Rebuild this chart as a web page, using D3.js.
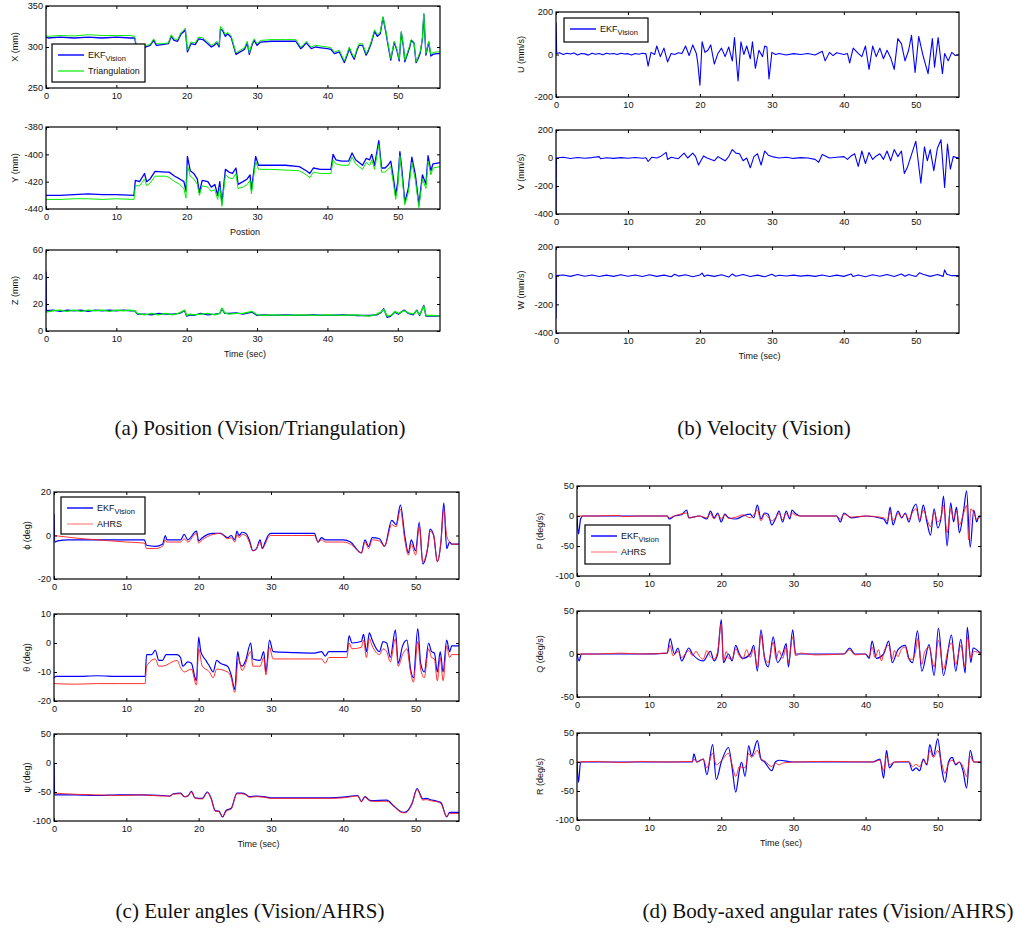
<!DOCTYPE html>
<html>
<head>
<meta charset="utf-8">
<script src="https://cdn.jsdelivr.net/npm/d3@7"></script>
<style>
  body { margin: 0; background: #fff; }
  svg text { font-family: "Liberation Sans", Arial, sans-serif; fill: #111; }
  .caption { font-family: "Liberation Serif", "Times New Roman", serif; }
</style>
</head>
<body>
<div id="chart"></div>
<script>
// time values in seconds, paired with the reading at that time

// (a) position
var xEkf = [[0,312],[0.3,311],[2,312],[4,311],[6,312],[8,311],[10,312],[12,311],[12.6,311],[12.9,297],[13.5,296],[14.2,300],[14.8,302],[15.3,308],[15.7,302],[16.5,303],[17.4,304],[17.8,313],[18.2,308],[18.7,307],[19.2,316],[19.5,318],[19.8,321],[20.1,294],[20.6,304],[21.2,303],[21.7,310],[22.3,309],[23,304],[23.5,300],[23.9,302],[24.3,305],[24.6,300],[24.8,322],[25.1,320],[25.5,313],[25.8,316],[26.3,312],[27,291],[27.6,294],[28.2,297],[28.6,305],[28.9,291],[29.3,303],[29.6,308],[30,302],[30.5,306],[32,307],[34,307],[35.5,307],[36.2,298],[36.6,301],[37,305],[37.4,301],[37.7,298],[38.3,300],[39.1,299],[40,298],[40.5,297],[41,292],[41.7,294],[42.4,281],[42.8,290],[43.1,298],[43.5,290],[43.8,285],[44.2,296],[44.5,302],[45,302],[45.5,290],[45.8,295],[46.2,304],[46.7,319],[47.1,313],[47.5,316],[47.9,336],[48.3,318],[48.7,298],[49,284],[49.5,306],[49.9,295],[50.2,283],[50.5,318],[50.8,300],[51,282],[51.4,292],[51.7,300],[51.9,308],[52.3,305],[52.6,281],[52.9,286],[53.2,293],[53.5,310],[53.7,340],[54,290],[54.4,306],[54.7,289],[55,291],[55.5,292],[56,292]];
var xTri = [[0,314],[0.3,313],[2,314],[4,313.5],[6,315],[8,314],[10,314],[12,314],[12.6,313],[12.9,299],[13.5,298],[14.2,302],[14.8,303],[15.3,310],[15.7,304],[16.5,304],[17.4,305],[17.8,315],[18.2,310],[18.7,309],[19.2,318],[19.5,320],[19.8,323],[20.1,296],[20.6,306],[21.2,305],[21.7,312],[22.3,311],[23,306],[23.5,302],[23.9,304],[24.3,307],[24.6,302],[24.8,325],[25.1,322],[25.5,315],[25.8,318],[26.3,314],[27,293],[27.6,296],[28.2,299],[28.6,307],[28.9,293],[29.3,305],[29.6,310],[30,304],[30.5,308],[32,309],[34,309],[35.5,309],[36.2,300],[36.6,303],[37,307],[37.4,303],[37.7,300],[38.3,302],[39.1,301],[40,300],[40.5,299],[41,294],[41.7,296],[42.4,283],[42.8,292],[43.1,300],[43.5,292],[43.8,287],[44.2,298],[44.5,304],[45,304],[45.5,292],[45.8,297],[46.2,306],[46.7,321],[47.1,315],[47.5,318],[47.9,337],[48.3,320],[48.7,300],[49,286],[49.5,307],[49.9,297],[50.2,285],[50.5,319],[50.8,302],[51,284],[51.4,294],[51.7,302],[51.9,309],[52.3,306],[52.6,282],[52.9,288],[53.2,295],[53.5,311],[53.7,341],[54,292],[54.4,307],[54.7,291],[55,293],[55.5,294],[56,294]];
var yEkf = [[0,-430],[2,-430],[4,-429.5],[6,-429],[8,-429.5],[10,-429.5],[12.5,-430],[12.7,-419],[13.3,-420],[14,-414],[14.3,-420],[14.8,-418],[15.5,-412.5],[17,-413],[17.5,-413],[18.3,-416],[19,-418],[19.6,-420],[19.9,-427],[20.1,-401.5],[20.5,-412],[21,-414],[21.5,-418],[21.8,-428],[22.2,-419],[23,-420],[23.5,-424],[24,-422],[24.4,-430],[24.7,-420],[25,-436],[25.5,-411],[26,-413],[26.5,-414],[27,-410],[27.3,-422],[28,-420],[28.6,-418],[29,-415],[29.2,-426],[29.8,-401.5],[30.2,-408],[32,-408],[34,-408],[36,-409],[37,-412],[37.5,-414],[38,-410],[39,-411],[40.5,-411],[40.8,-400],[41.2,-404],[42,-405],[43,-405],[43.5,-399],[44,-404],[45,-408],[45.5,-403],[46,-404],[46.3,-400],[46.7,-408],[47.3,-390],[47.7,-410],[48.2,-410],[48.6,-408],[49,-405],[49.4,-418],[49.7,-430],[50,-420],[50.3,-398],[50.6,-412],[51,-435],[51.5,-425],[52,-402],[52.5,-415],[53,-437],[53.5,-415],[54,-422],[54.3,-401],[54.7,-412],[55,-407],[56,-406]];
var yTri = [[0,-433],[2,-433],[4,-432.5],[6,-432.5],[8,-433],[10,-432.5],[12.5,-433],[12.7,-423],[13.3,-423],[14,-418],[14.3,-423],[14.8,-421],[15.5,-416],[17,-416],[17.5,-417],[18.3,-420],[19,-422],[19.6,-425],[19.9,-432],[20.1,-408],[20.5,-416],[21,-418],[21.5,-422],[21.8,-430],[22.2,-423],[23,-424],[23.5,-427],[24,-426],[24.4,-433],[24.7,-424],[25,-438],[25.5,-415],[26,-417],[26.5,-418],[27,-414],[27.3,-425],[28,-424],[28.6,-422],[29,-419],[29.2,-429],[29.8,-405],[30.2,-411],[32,-411],[34,-411.5],[36,-412],[37,-415],[37.5,-417],[38,-413],[39,-414],[40.5,-414],[40.8,-404],[41.2,-407],[42,-408],[43,-408],[43.5,-402],[44,-407],[45,-411],[45.5,-406],[46,-408],[46.3,-404],[46.7,-411],[47.3,-393],[47.7,-413],[48.2,-413],[48.6,-411],[49,-409],[49.4,-422],[49.7,-433],[50,-424],[50.3,-401],[50.6,-416],[51,-437],[51.5,-428],[52,-406],[52.5,-419],[53,-439],[53.5,-418],[54,-425],[54.3,-405],[54.7,-415],[55,-410],[56,-409]];
var zEkf = [[0,44],[0.05,15],[1,15.5],[2,14.5],[3,15.5],[4,15],[5,15.5],[6,14.5],[7,15.5],[8,15],[9,15.5],[10,15],[11,15.5],[12,15],[12.6,15],[13,12.5],[14,12.5],[15,12],[16,13],[17,12.5],[18,12.5],[19,13],[19.7,15],[20,11],[20.5,12],[21,11.5],[22,13],[23,12],[24,12.5],[24.7,13],[25,16.5],[25.4,13],[26,13],[27,13.5],[28,12.5],[29.3,14],[30,11.5],[31,12],[32,11.5],[34,12],[36,11.5],[38,12],[40,11.5],[42,12],[44,11.5],[46,11.5],[47,12],[47.6,13.5],[48,16.5],[48.5,10],[49,11],[49.6,14],[50.1,12.5],[50.9,15.5],[51.5,13],[52.2,12],[52.7,15.5],[53.1,11.5],[53.7,19],[54,11],[55,11],[56,11]];
var zTri = [[0,14],[1,15],[2,15.5],[3,14.5],[4,15.5],[5,14.5],[6,15.5],[7,15],[8,15.5],[9,14.5],[10,15.5],[11,15],[12,15.5],[12.6,15],[13,13],[14,12],[15,13],[16,12],[17,13],[18,12],[19,13.5],[19.7,15.5],[20,11.5],[20.5,12.5],[21,12],[22,12.5],[23,13],[24,12],[24.7,13],[25,17],[25.4,13.5],[26,12.5],[27,13],[28,13],[29.3,14.5],[30,12],[31,11.5],[32,12],[34,11.5],[36,12],[38,11.5],[40,12],[42,11.5],[44,12],[46,11],[47,12.5],[47.6,14],[48,16],[48.5,11],[49,11.5],[49.6,14.5],[50.1,13],[50.9,15],[51.5,13.5],[52.2,12.5],[52.7,15],[53.1,12],[53.7,18.5],[54,11.5],[55,11.5],[56,11]];

// (b) velocity
var uEkf = [[0,150],[0.1,5],[0.5,8],[1,0],[1.5,6],[2,2],[2.5,7],[3,-2],[3.5,5],[4,3],[4.5,-3],[5,6],[5.5,1],[6,5],[6.5,-1],[7,6],[7.5,2],[8,5],[8.5,0],[9,6],[9.5,2],[10,4],[10.5,-2],[11,5],[11.5,1],[12,6],[12.5,3],[12.8,-55],[13.2,10],[13.7,0],[14,40],[14.5,-10],[15,30],[15.5,-35],[16,5],[16.5,0],[17,8],[17.5,5],[18,40],[18.5,-5],[19,45],[19.5,5],[19.7,-40],[20,-145],[20.3,60],[20.7,10],[21.1,20],[21.5,45],[22,-45],[22.5,5],[23,30],[23.5,-10],[24,35],[24.5,-30],[24.8,80],[25.3,-125],[25.7,60],[26.1,0],[26.5,40],[27,-20],[27.3,60],[27.7,-65],[28.2,20],[28.7,-10],[29,40],[29.3,35],[29.6,-115],[30,10],[30.5,0],[31,5],[32,-2],[33,4],[34,0],[35,5],[36,-2],[37,15],[37.4,-30],[38,10],[38.5,-5],[39,8],[40,0],[40.5,5],[40.8,-40],[41.3,30],[42,5],[42.5,-10],[43,40],[43.5,-70],[44,40],[44.5,-10],[45,30],[45.5,-20],[46,20],[46.5,-15],[47,-70],[47.5,75],[48,50],[48.5,-30],[49,20],[49.4,90],[49.9,-85],[50.4,85],[51,-5],[51.7,-90],[52.3,75],[52.6,-60],[53.1,80],[53.7,-90],[54,5],[54.5,-30],[55,10],[55.5,-5],[56,0]];
var vEkf = [[0,-380],[0.05,0],[1,5],[2,-3],[3,4],[4,-2],[5,3],[6,10],[6.2,-5],[7,2],[8,-3],[9,3],[10,-2],[11,4],[12,-2],[12.5,2],[12.8,-25],[13.3,5],[14,0],[14.5,10],[15.3,40],[15.5,-10],[16,5],[17,-5],[17.8,35],[18.3,0],[19,35],[19.4,10],[19.8,-50],[20.5,15],[21,0],[22,-20],[22.5,10],[23,-5],[23.5,-20],[24,10],[24.5,60],[25,35],[25.5,30],[26,-20],[26.5,0],[27,-70],[27.5,10],[28,30],[28.5,-50],[29,50],[29.5,20],[30,10],[31,0],[32,5],[33,-3],[34,3],[35,0],[36,-10],[36.5,-30],[37,25],[38,0],[39,5],[40,10],[40.5,-10],[41,15],[41.5,30],[42,-60],[42.5,50],[43,-40],[43.5,40],[44,-10],[44.5,15],[45,30],[45.5,-10],[46,50],[46.5,-20],[47,60],[47.5,10],[48,50],[48.4,-110],[48.8,-70],[49.5,40],[50,120],[50.7,-180],[51.2,80],[51.6,-20],[52,60],[52.5,-90],[53,70],[53.5,130],[54,-210],[54.4,100],[54.8,-80],[55.2,10],[56,0]];
var wEkf = [[0,-300],[0.05,0],[1,5],[2,-5],[3,8],[4,-4],[5,5],[6,-6],[7,4],[8,-5],[9,7],[10,-4],[11,5],[12,-6],[13,6],[14,-5],[15,4],[16,-8],[16.5,10],[17,-3],[18,6],[19,-8],[20,5],[20.3,18],[20.6,-6],[21,4],[22,-5],[23,6],[24,-10],[24.5,12],[25,-4],[26,8],[27,-6],[28,4],[29,-8],[30,10],[30.5,-4],[31,3],[32,-2],[33,4],[34,-3],[35,2],[36,-5],[37,5],[38,-6],[39,4],[40,-5],[41,12],[41.3,-6],[42,5],[43,-7],[44,6],[45,-4],[46,8],[47,-6],[48,12],[48.5,-4],[49,8],[50,-6],[50.5,20],[51,10],[52,-5],[53,8],[53.8,-5],[54,40],[54.3,10],[55,0],[56,0]];

// (c) euler angles
var phiEkf = [[0,10],[0.1,-3],[0.5,-2.5],[2,-2],[4,-2],[6,-2],[8,-2],[10,-2],[12.5,-2],[12.8,-4.5],[14,-5],[15,-4],[15.4,0],[15.6,-2],[17.5,-2],[18,0.5],[18.5,-2],[19.7,2],[20,-2.5],[20.5,-1],[22,1],[23,1],[24,-1],[24.5,0],[25,-2],[25.3,2],[25.6,0],[26,1.5],[26.5,1],[27,-2],[27.5,-7],[28,-6],[28.5,-2],[28.8,-6],[29.2,-3],[29.6,0],[30,1],[33,1],[36,1],[36.5,-3],[37,-1],[37.5,-2],[38,-2],[40,-2],[41,-3],[42.5,-8],[43,-2],[43.5,-5],[44,-1],[45,-1.5],[45.7,-5],[46.7,7],[47.3,5],[47.9,14],[48.5,0],[49,-8],[49.4,-2],[50,-7],[50.5,6],[51,-13],[51.7,-5],[52,3],[52.5,0],[53,-12],[53.5,-3],[53.9,15],[54.3,-6],[54.7,-3],[55,-4],[56,-4]];
var phiAhrs = [[0,0],[2,-0.8],[4,-1.5],[6,-2],[8,-2.5],[10,-3],[12.5,-3.5],[12.8,-6],[14,-6],[15,-5],[15.4,-2],[15.6,-3],[17.5,-3],[18,-1.5],[18.5,-3],[19.7,1],[20,-3.5],[20.5,-2],[22,0.5],[23,1],[24,-1.5],[24.5,-1],[25,-3],[25.3,0.5],[25.6,-1],[26,0.5],[26.5,0],[27,-3],[27.5,-7],[28,-6],[28.5,-3],[28.8,-6],[29.2,-4],[29.6,-1],[30,0],[33,0],[36,0],[36.5,-3],[37,-2],[37.5,-3],[38,-3],[40,-3],[41,-4],[42.5,-8],[43,-3],[43.5,-6],[44,-2],[45,-2.5],[45.7,-5],[46.7,5],[47.3,4],[47.9,12],[48.5,-2],[49,-9],[49.4,-4],[50,-9],[50.5,4],[51,-12],[51.7,-5],[52,2],[52.5,0],[53,-12],[53.5,-3],[53.9,12],[54.3,0],[54.7,-3],[55,-4],[56,-4]];
var thetaEkf = [[0,-12],[0.3,-11.5],[3,-11.5],[6,-11.3],[9,-11.5],[12.6,-11.5],[12.8,-4],[13.5,-4],[14,-2.5],[14.5,-6],[15,-6],[15.5,-4],[17,-4],[17.5,-5],[17.8,-8],[18.5,-6.5],[19,-7],[19.5,-12],[19.7,-13],[20,2],[20.3,-3],[21,-6],[21.5,-8],[22,-10],[22.5,-6],[23,-7],[24,-8],[24.5,-11],[25,-16],[25.4,-3],[25.7,-7],[26,-8],[26.5,-6],[27.2,0],[27.5,-5.5],[28.5,-6],[29,-3],[29.3,-10],[29.8,1],[30.3,-3],[33,-3.3],[36,-3.5],[37,-3],[37.5,-4.5],[38,-3],[40.5,-3],[40.8,2.5],[41.2,0],[42.5,0.5],[42.8,3],[43.2,-3],[43.6,3.5],[44,1],[45,-3],[45.5,0.5],[46,0],[46.5,-5],[47.2,4.5],[47.6,-7],[48.2,-1],[48.8,1],[49.3,-9],[49.7,-12],[50.3,5],[50.7,-7],[51.2,-10],[51.8,0],[52.2,-3],[52.6,-3.5],[53,-10],[53.4,-3],[53.8,-10],[54.3,1],[54.7,-3],[55,-1],[56,-1]];
var thetaAhrs = [[0,-14],[3,-14.2],[6,-14],[9,-14],[12.6,-14],[12.8,-8],[14,-5.5],[14.5,-8],[15,-8],[17,-6],[17.5,-8.5],[18,-10],[19,-9],[19.7,-14.5],[20,-2],[20.5,-8],[21.5,-10],[22,-12],[22.5,-9],[24,-10],[24.5,-12],[25,-17],[25.5,-5],[26,-9.5],[27.2,-3],[27.5,-8],[28.5,-8],[29,-5],[29.3,-11],[29.8,-1.5],[30.3,-5.5],[33,-5.5],[36,-5.5],[37,-5.5],[37.5,-7],[38,-5],[40.5,-5],[40.8,0],[41.2,-2],[42.5,-1.5],[42.8,1],[43.2,-5],[43.6,1.5],[44,-1],[45,-4],[45.5,-2],[46,-3],[46.5,-6.5],[47.2,1.5],[47.6,-8],[48.2,-4],[48.8,-2],[49.3,-10],[49.7,-13.5],[50.3,0.5],[50.7,-9],[51.2,-12],[51.8,-2],[52.2,-5],[52.6,-5.5],[53,-13],[53.4,-5],[53.8,-13],[54.3,-1],[54.7,-5],[55,-4],[56,-4]];
var psiEkf = [[0,0],[0.1,-55],[3,-55],[6,-56],[9,-55],[12,-55],[15,-56],[16,-57],[16.5,-53],[17.5,-52],[18,-58],[18.5,-57],[19,-49],[19.5,-60],[20.5,-61],[21.2,-50],[21.7,-60],[22.3,-82],[22.8,-83],[23.3,-93],[23.8,-82],[24.5,-78],[25.3,-52],[26,-52],[26.5,-54],[27,-58],[28,-57],[29,-58],[30,-60],[34,-60],[38,-60],[40,-59],[42,-56],[42.5,-66],[43,-58],[43.6,-64],[44,-65],[46,-64],[47,-74],[48,-84],[48.5,-85],[49.5,-70],[50.2,-44],[51,-62],[51.5,-61],[52,-63],[53,-66],[53.5,-68],[54.3,-93],[54.7,-85],[56,-85]];
var psiAhrs = [[0,-52],[3,-54],[6,-55],[9,-56],[12,-55],[15,-57],[16,-57],[16.5,-54],[17.5,-53],[18,-58],[18.5,-57],[19,-50],[19.5,-61],[20.5,-62],[21.2,-51],[21.7,-61],[22.3,-83],[22.8,-84],[23.3,-92],[23.8,-83],[24.5,-79],[25.3,-53],[26,-53],[26.5,-55],[27,-59],[28,-58],[29,-59],[30,-61],[34,-61],[38,-61],[40,-60],[42,-57],[42.5,-67],[43,-59],[43.6,-65],[44,-66],[46,-66],[47,-75],[48,-85],[48.5,-86],[49.5,-71],[50.2,-46],[51,-64],[51.5,-63],[52,-65],[53,-67],[53.5,-70],[54.3,-92],[54.7,-87],[56,-87]];

// (d) angular rates
var pEkf = [[0,0],[0.2,-30],[0.5,-5],[0.8,0],[3,0],[6,0],[9,0],[12.5,0],[12.8,-5],[13.5,0],[14.5,2],[15.2,10],[15.5,-3],[17,0],[18,-5],[18.5,8],[19,-3],[19.5,5],[20,-10],[20.5,3],[21,-3],[22,-5],[23,0],[24,3],[24.5,-3],[25,18],[25.5,-5],[26,5],[26.5,3],[27,-15],[27.5,-5],[28,8],[28.5,-10],[29,8],[29.5,-5],[29.8,10],[30.2,5],[31,0],[36,0],[36.5,-10],[37,5],[38,-3],[40,0],[42.5,-5],[43,-13],[43.4,15],[43.8,-15],[44.5,8],[45,-3],[45.5,5],[46,-10],[46.5,10],[47,20],[47.5,-10],[48,18],[48.5,-10],[49,-32],[49.5,12],[50,-20],[50.5,0],[50.8,33],[51.3,-50],[51.8,22],[52.2,-10],[52.6,15],[53,-28],[53.6,10],[54,42],[54.5,-52],[55,10],[55.4,-10],[55.7,0],[56,0]];
var pAhrs = [[0,0],[3,0],[6,1],[6.2,-1],[9,0],[12.5,0],[12.8,-3],[13.5,0],[15.2,5],[15.5,-3],[17,0],[18,-3],[18.5,4],[19,-5],[19.5,3],[20,-5],[20.5,2],[21,-4],[22,-2],[23,2],[24,-3],[24.5,2],[25,10],[25.5,-8],[26,3],[26.5,-2],[27,-8],[27.5,-3],[28,4],[28.5,-6],[29,4],[29.5,-2],[29.8,5],[30.2,2],[31,0],[36,0],[36.5,-5],[37,3],[38,-2],[40,0],[42.5,-3],[43,-8],[43.4,8],[43.8,-8],[44.5,4],[45,-2],[45.5,3],[46,-5],[46.5,6],[47,12],[47.5,-6],[48,10],[48.5,-5],[49,-18],[49.5,6],[50,-10],[50.5,0],[50.8,18],[51.3,-28],[51.8,12],[52.2,-5],[52.6,8],[53,-15],[53.6,5],[54,18],[54.3,-40],[54.6,12],[55,5],[55.4,-5],[56,0]];
var qEkf = [[0,0],[0.3,-8],[0.6,0],[3,0],[6,0],[9,0],[12.5,1],[12.9,18],[13.5,0],[14,7],[14.5,-8],[15.5,7],[16,0],[17.5,-8],[18.5,3],[19,-8],[19.5,0],[20,40],[20.3,-10],[21,0],[21.5,-8],[22,10],[22.5,0],[23,-5],[24,0],[24.5,10],[25,-20],[25.5,28],[26,-5],[26.5,-15],[27.2,20],[27.8,-10],[28.5,0],[29,12],[29.3,-15],[29.9,28],[30.3,0],[31,0],[37,0],[37.8,7],[38.5,0],[40,0],[40.5,-5],[40.9,15],[41.5,-5],[42.5,0],[43.2,15],[43.7,-10],[44.5,5],[45.5,10],[46,-5],[46.5,-10],[47.2,27],[47.8,-20],[48.8,11],[49.5,-25],[50.1,30],[50.8,-25],[51.9,22],[52.5,-20],[53.2,17],[53.8,-22],[54.1,31],[54.6,-10],[54.9,7],[56,0]];
var qAhrs = [[0,0],[3,0],[6,1],[9,0],[12.5,1],[12.9,10],[13.3,-2],[14,3],[14.5,-4],[15.5,4],[16,-2],[16.5,3],[17,-3],[17.5,-6],[18,4],[18.5,-3],[19,-6],[19.5,3],[20,35],[20.3,-8],[20.7,3],[21,-5],[21.5,-6],[22,6],[22.5,-2],[23,-6],[23.5,5],[24,-4],[24.5,6],[25,-15],[25.5,22],[26,-4],[26.5,-10],[27.2,14],[27.6,-6],[28,4],[28.5,-5],[29,8],[29.3,-10],[29.9,20],[30.3,-2],[31,1],[33,-1],[37,0],[37.8,5],[38.5,-1],[40,0],[40.5,-3],[40.9,8],[41.3,-4],[41.8,5],[42.2,-8],[42.6,4],[43.2,10],[43.7,-6],[44,4],[44.5,-3],[45,6],[45.5,8],[46,-6],[46.5,-6],[47,6],[47.2,18],[47.8,-12],[48.2,3],[48.8,8],[49.5,-15],[50.1,16],[50.8,-18],[51.4,4],[51.9,13],[52.5,-12],[53.2,10],[53.8,-15],[54.1,20],[54.6,-5],[55,3],[56,0]];
var rEkf = [[0,0],[0.2,-35],[0.5,0],[3,0],[6,0],[9,0],[12,0],[16,0],[16.2,14],[16.6,0],[17.5,5],[18,-22],[18.8,30],[19.3,-30],[20,0],[21,25],[21.5,-10],[22,-52],[22.5,-15],[22.8,0],[23.3,-25],[23.8,28],[24.2,10],[25,37],[25.5,5],[26,0],[27,-15],[27.5,0],[28,3],[30,0],[35,0],[41,0],[42,5],[42.5,-28],[42.9,20],[43.3,-10],[44,0],[46,0],[46.5,-15],[47,-10],[47.5,-15],[48,5],[48.5,-5],[48.9,30],[49.4,10],[50,40],[50.6,-15],[51,-35],[51.5,0],[52,8],[52.5,-5],[53,0],[53.5,-15],[54,-45],[54.5,20],[55,0],[56,0]];
var rAhrs = [[0,0],[3,1],[6,-1],[9,1],[12,0],[16,1],[16.2,5],[16.6,0],[17.5,5],[18,-10],[18.8,15],[19.3,-5],[20,2],[21,15],[21.5,-5],[22,-25],[22.5,-8],[23.3,-10],[23.8,15],[24.2,8],[25,20],[25.5,5],[26,2],[27,-8],[27.5,-2],[28,-5],[28.5,-2],[30,0],[35,1],[41,0],[42,3],[42.5,-15],[42.9,10],[43.3,-5],[44,0],[46,1],[46.5,-8],[47,-4],[47.5,-8],[48,3],[48.5,-3],[48.9,20],[49.4,8],[50,20],[50.6,-5],[51,-20],[51.5,-2],[52,3],[52.5,-3],[53,0],[53.5,-8],[54,-25],[54.5,10],[55,0],[56,0]];

var timeTicks = [0, 10, 20, 30, 40, 50];
var captions = ["(a) Position (Vision/Triangulation)", "(b) Velocity (Vision)",
                "(c) Euler angles (Vision/AHRS)", "(d) Body-axed angular rates (Vision/AHRS)"];

var blue = "#0000ff", green = "#00ee00", red = "#ff1a1a";

// one entry per subplot
var plots = [
  { box: [46, 440, 6, 88],    yDom: [250, 350],   yTicks: [250, 300, 350], ylab: "X (mm)", labX: 18,
    lines: [[xEkf, blue, 1.3], [xTri, green, 1]],
    legend: { x: 52, y: 44, w: 93, h: 38, items: [["EKF", "Vision", blue], ["Triangulation", "", green]] } },
  { box: [46, 440, 127, 209], yDom: [-440, -380], yTicks: [-440, -420, -400, -380], ylab: "Y (mm)", labX: 18,
    lines: [[yEkf, blue, 1.3], [yTri, green, 1]], xlab: "Postion" },
  { box: [46, 440, 250, 331], yDom: [0, 60],      yTicks: [0, 20, 40, 60], ylab: "Z (mm)", labX: 18,
    lines: [[zEkf, blue, 1.3], [zTri, green, 1.3]], xlab: "Time (sec)" },
  { box: [556, 959, 12, 97],  yDom: [-200, 200],  yTicks: [-200, 0, 200], ylab: "U (mm/s)", labX: 524,
    lines: [[uEkf, blue, 1.1]],
    legend: { x: 564, y: 18, w: 84, h: 24, items: [["EKF", "Vision", blue]] } },
  { box: [556, 959, 130, 214], yDom: [-400, 200], yTicks: [-400, -200, 0, 200], ylab: "V (mm/s)", labX: 524,
    lines: [[vEkf, blue, 1.1]] },
  { box: [556, 959, 247, 333], yDom: [-400, 200], yTicks: [-400, -200, 0, 200], ylab: "W (mm/s)", labX: 524,
    lines: [[wEkf, blue, 1.1]], xlab: "Time (sec)" },
  { box: [54, 459, 492, 579], yDom: [-20, 20],    yTicks: [-20, 0, 20], ylab: "\u03d5 (deg)", labX: 30, smooth: true,
    lines: [[phiEkf, blue, 1.2], [phiAhrs, red, 0.9]],
    legend: { x: 61, y: 497, w: 84, h: 37, items: [["EKF", "Vision", blue], ["AHRS", "", "#ff8080"]] } },
  { box: [54, 459, 614, 701], yDom: [-20, 10],    yTicks: [-20, -10, 0, 10], ylab: "\u03b8 (deg)", labX: 30, smooth: true,
    lines: [[thetaEkf, blue, 1.2], [thetaAhrs, red, 0.9]] },
  { box: [54, 459, 734, 821], yDom: [-100, 50],   yTicks: [-100, -50, 0, 50], ylab: "\u03c8 (deg)", labX: 30, smooth: true,
    lines: [[psiEkf, blue, 1.2], [psiAhrs, red, 0.9]], xlab: "Time (sec)" },
  { box: [577, 981, 486, 576], yDom: [-100, 50],  yTicks: [-100, -50, 0, 50], ylab: "P (deg/s)", labX: 543, smooth: true,
    lines: [[pEkf, blue, 1.2], [pAhrs, red, 0.9]],
    legend: { x: 585, y: 525, w: 85, h: 39, items: [["EKF", "Vision", blue], ["AHRS", "", "#ff8080"]] } },
  { box: [577, 981, 611, 697], yDom: [-50, 50],   yTicks: [-50, 0, 50], ylab: "Q (deg/s)", labX: 543, smooth: true,
    lines: [[qEkf, blue, 1.2], [qAhrs, red, 0.9]] },
  { box: [577, 981, 733, 820], yDom: [-100, 50],  yTicks: [-100, -50, 0, 50], ylab: "R (deg/s)", labX: 543, smooth: true,
    lines: [[rEkf, blue, 1.2], [rAhrs, red, 0.9]], xlab: "Time (sec)" }
];

var svg = d3.select("#chart").append("svg")
    .attr("width", 1015)
    .attr("height", 935);

svg.append("rect").attr("width", 1015).attr("height", 935).attr("fill", "#fff");

plots.forEach(function(p, i) {
  var left = p.box[0], right = p.box[1], top = p.box[2], bottom = p.box[3];
  var x = d3.scaleLinear().domain([0, 56]).range([left, right]);
  var y = d3.scaleLinear().domain(p.yDom).range([bottom, top]);

  var g = svg.append("g");

  g.append("clipPath").attr("id", "clip" + i)
    .append("rect").attr("x", left).attr("y", top)
    .attr("width", right - left).attr("height", bottom - top);

  var line = d3.line()
      .x(function(d) { return x(d[0]); })
      .y(function(d) { return y(d[1]); })
      .curve(p.smooth ? d3.curveMonotoneX : d3.curveLinear);

  p.lines.forEach(function(l) {
    g.append("path")
      .attr("clip-path", "url(#clip" + i + ")")
      .attr("d", line(l[0]))
      .attr("fill", "none")
      .attr("stroke", l[1])
      .attr("stroke-width", l[2])
      .attr("stroke-linejoin", "round");
  });

  // matlab style axes: ticks point inwards on all four sides
  var fmt = function(d) { return d; };
  g.append("g").attr("transform", "translate(0," + bottom + ")")
    .call(d3.axisBottom(x).tickValues(timeTicks).tickSize(-3).tickPadding(4).tickFormat(fmt));
  g.append("g").attr("transform", "translate(0," + top + ")")
    .call(d3.axisTop(x).tickValues(timeTicks).tickSize(-3).tickFormat(""));
  g.append("g").attr("transform", "translate(" + left + ",0)")
    .call(d3.axisLeft(y).tickValues(p.yTicks).tickSize(-3).tickPadding(3).tickFormat(fmt));
  g.append("g").attr("transform", "translate(" + right + ",0)")
    .call(d3.axisRight(y).tickValues(p.yTicks).tickSize(-3).tickFormat(""));

  g.selectAll(".domain").remove();
  g.selectAll(".tick line").attr("stroke", "#000");
  g.selectAll(".tick text").attr("font-size", 9.2).attr("fill", "#222");

  g.append("rect")
    .attr("x", left).attr("y", top)
    .attr("width", right - left).attr("height", bottom - top)
    .attr("fill", "none").attr("stroke", "#000").attr("stroke-width", 1.2);

  g.append("text")
    .attr("transform", "translate(" + p.labX + "," + ((top + bottom) / 2) + ") rotate(-90)")
    .attr("text-anchor", "middle")
    .attr("font-size", 9)
    .text(p.ylab);

  if (p.xlab) {
    g.append("text")
      .attr("x", (left + right) / 2 + 2)
      .attr("y", bottom + 26)
      .attr("text-anchor", "middle")
      .attr("font-size", 9)
      .text(p.xlab);
  }

  if (p.legend) {
    var lg = p.legend;
    g.append("rect")
      .attr("x", lg.x).attr("y", lg.y).attr("width", lg.w).attr("height", lg.h)
      .attr("fill", "#fff").attr("stroke", "#000").attr("stroke-width", 1.2);
    lg.items.forEach(function(it, k) {
      var ly = lg.y + 11 + k * 16;
      g.append("line")
        .attr("x1", lg.x + 6).attr("x2", lg.x + 32)
        .attr("y1", ly).attr("y2", ly)
        .attr("stroke", it[2]).attr("stroke-width", it[2] === blue ? 1.4 : 1.2);
      var t = g.append("text")
        .attr("x", lg.x + 36).attr("y", ly + 3)
        .attr("font-size", 9)
        .text(it[0]);
      if (it[1]) {
        t.append("tspan").attr("dy", 3).attr("font-size", 7.5).text(it[1]);
      }
    });
  }
});

// panel captions
var capPos = [[260, 435], [764, 435], [250, 918], [828, 918]];
svg.selectAll(".caption")
  .data(captions)
  .enter()
  .append("text")
    .attr("class", "caption")
    .attr("x", function(d, i) { return capPos[i][0]; })
    .attr("y", function(d, i) { return capPos[i][1]; })
    .attr("text-anchor", "middle")
    .attr("font-size", 21)
    .text(function(d) { return d; });
</script>
</body>
</html>
